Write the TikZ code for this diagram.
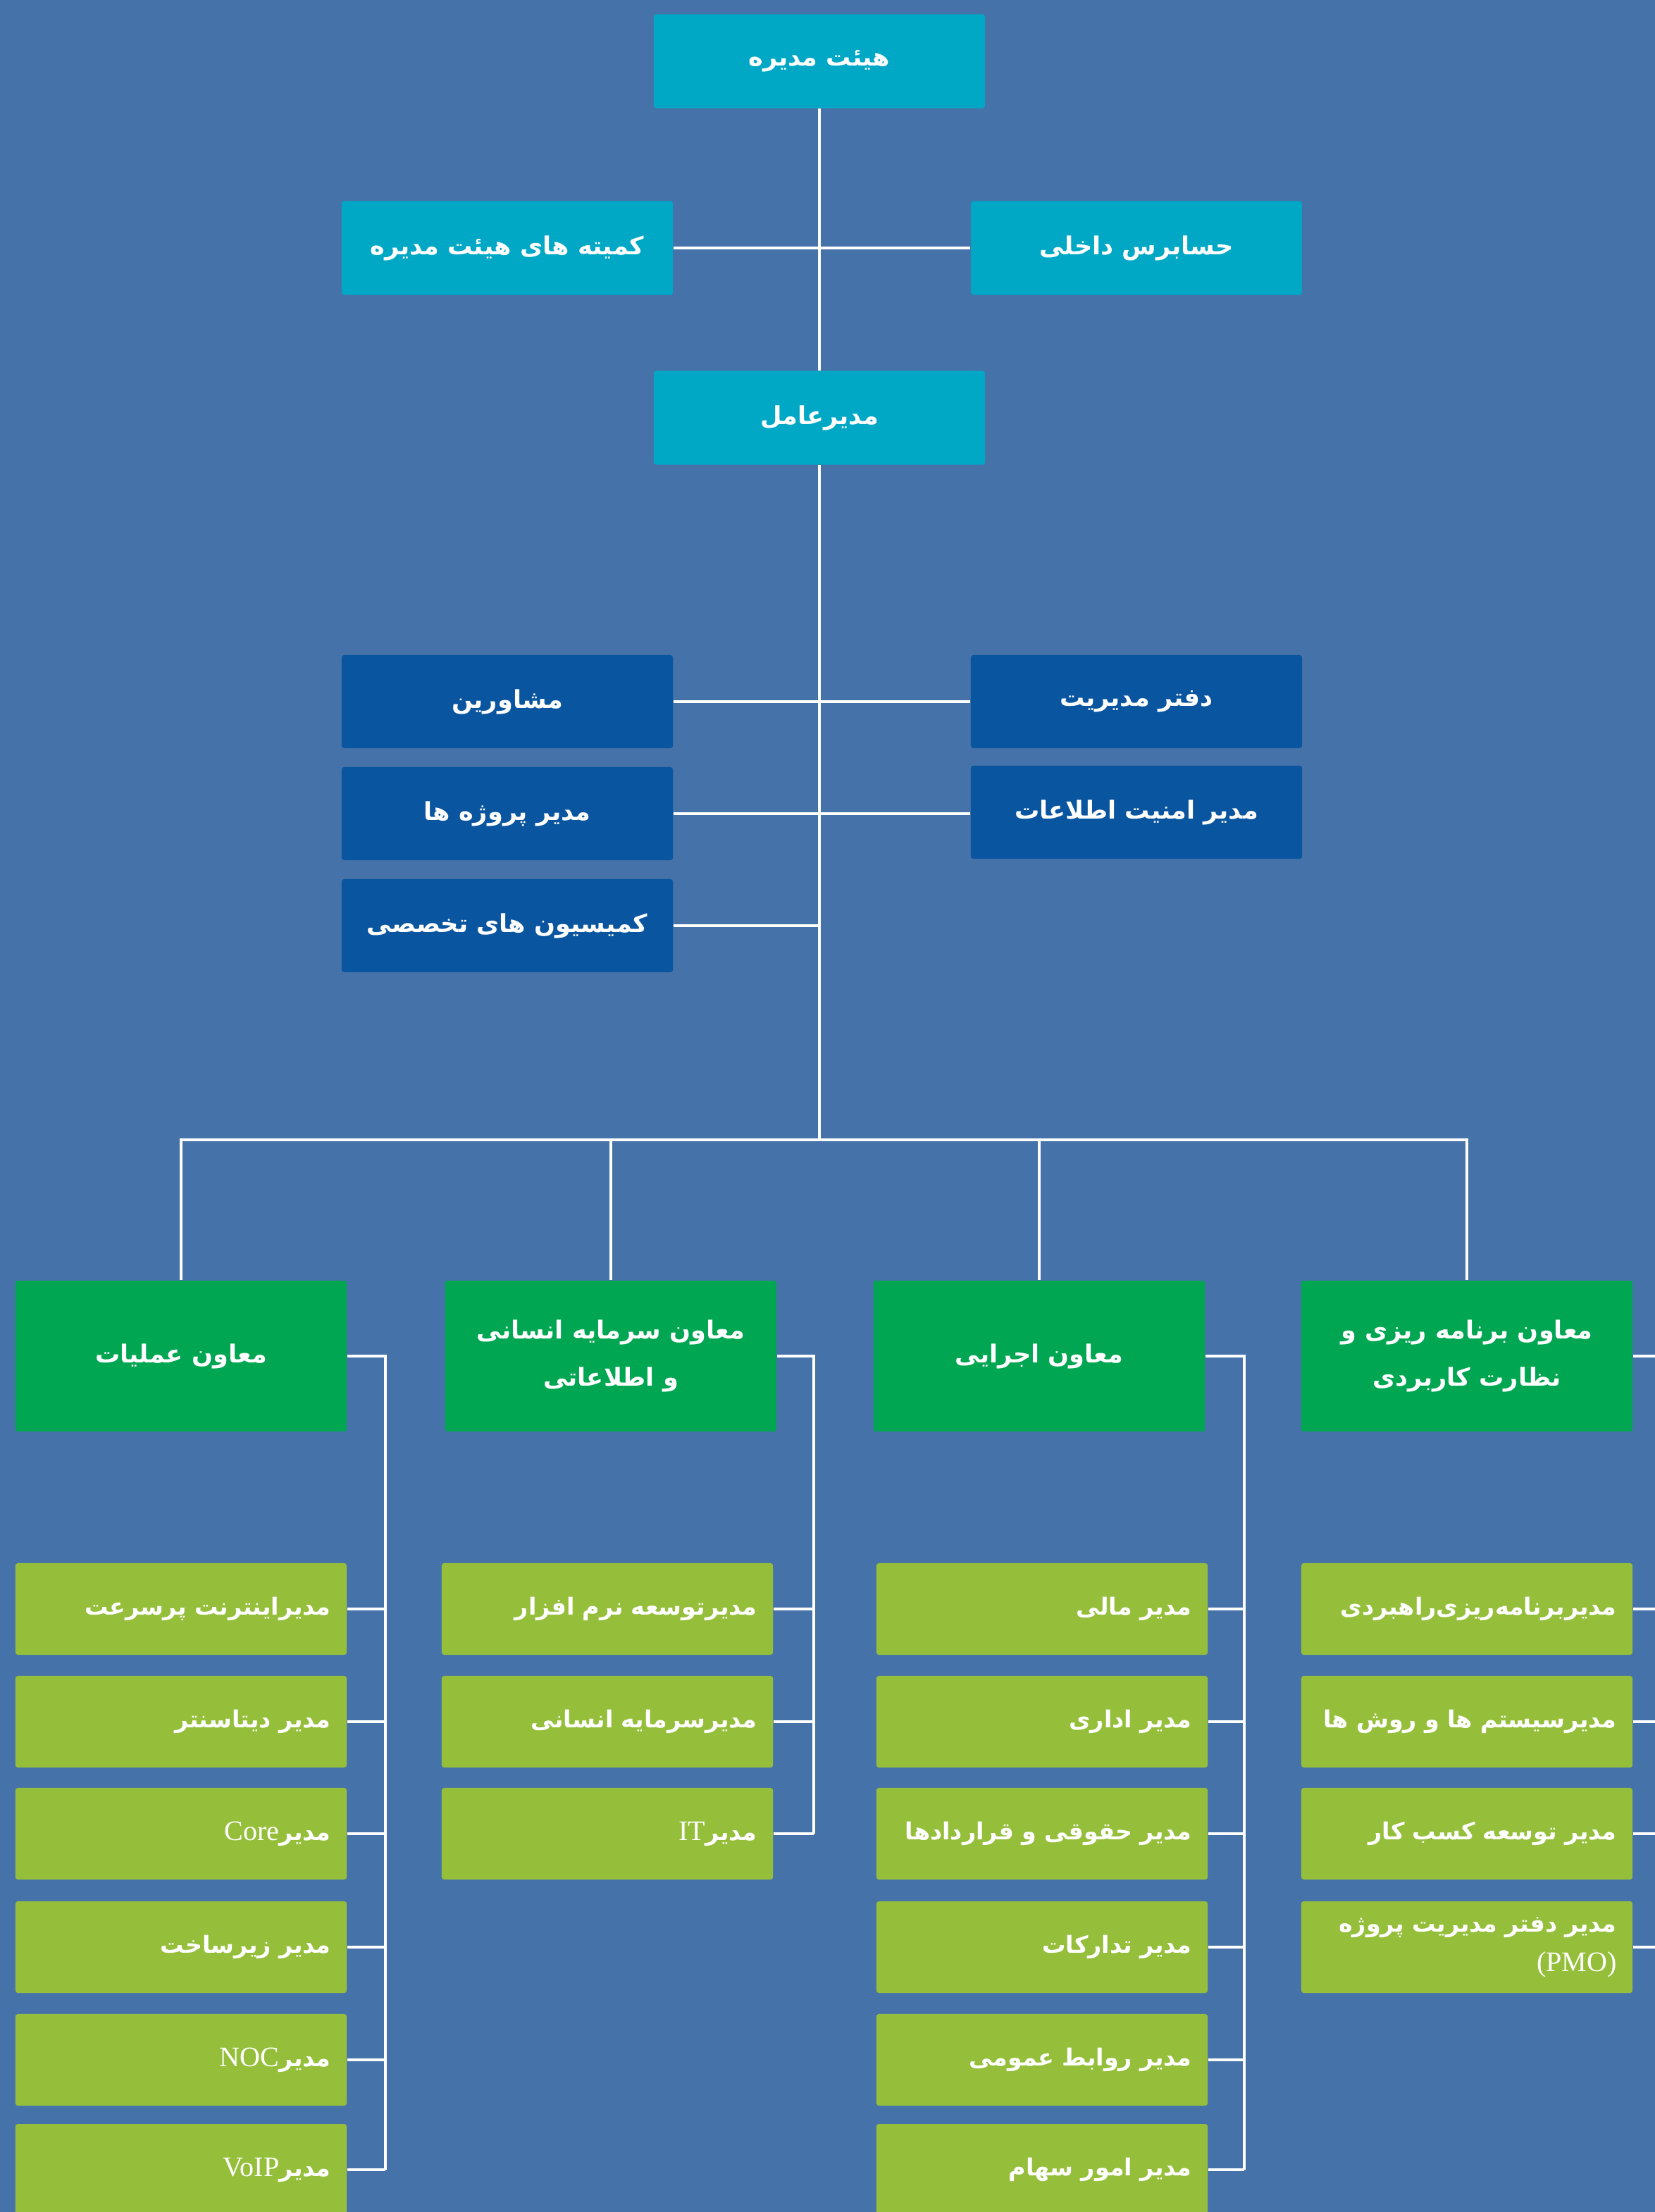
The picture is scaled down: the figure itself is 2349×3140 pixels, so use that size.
\documentclass[tikz,border=0pt]{standalone}
\usepackage{fontspec}
\newfontfamily\fafont[Script=Arabic]{DejaVu Sans}
\newfontfamily\lafont[Scale=1.2]{Liberation Serif}
\TeXXeTstate=1
\newcommand{\fa}[1]{{\fafont\bfseries\beginR #1\endR}}
\newcommand{\la}[1]{\beginL{\lafont\mdseries #1}\endL}
\definecolor{bgblue}{HTML}{4672AA}
\definecolor{cyanbox}{HTML}{00A8C6}
\definecolor{staffblue}{HTML}{0A559F}
\definecolor{vpgreen}{HTML}{00A651}
\definecolor{unitgreen}{HTML}{95BF3B}

\begin{document}
\begin{tikzpicture}[x=0.01cm,y=-0.01cm,
		box/.style={minimum width=4.7cm,inner sep=0pt,rounded corners=1pt,text=white,font=\fontsize{10}{19}\selectfont},
		topbox/.style={box,fill=cyanbox,minimum height=1.33cm},
		staffbox/.style={box,fill=staffblue,minimum height=1.32cm},
		vpbox/.style={box,fill=vpgreen,minimum height=2.14cm,align=center},
		unitbox/.style={box,fill=unitgreen,minimum height=1.3cm,text width=4.25cm,inner xsep=0.225cm,align=right,font=\fontsize{9.5}{16}\selectfont},
		wire/.style={draw=white,line width=1pt}]
		\useasboundingbox (0,0) rectangle (2349,3140);
		\fill [bgblue] (0,0) rectangle (2349,3140);
		\clip (0,0) rectangle (2349,3140);
		\node [topbox] (board) at (1163,87) {\fa{هیئت مدیره}};
		\node [topbox] (committees) at (720,352) {\fa{کمیته های هیئت مدیره}};
		\node [topbox] (auditor) at (1613,352) {\fa{حسابرس داخلی}};
		\node [topbox] (ceo) at (1163,593) {\fa{مدیرعامل}};
		\node [staffbox] (advisors) at (720,996) {\fa{مشاورین}};
		\node [staffbox] (mgmtoffice) at (1613,996) {\fa{دفتر مدیریت}};
		\node [staffbox] (projects) at (720,1155) {\fa{مدیر پروژه ها}};
		\node [staffbox] (security) at (1613,1153) {\fa{مدیر امنیت اطلاعات}};
		\node [staffbox] (commissions) at (720,1314) {\fa{کمیسیون های تخصصی}};
		\node [vpbox] (opsvp) at (257,1925) {\fa{معاون عملیات}};
		\node [vpbox] (hrvp) at (867,1925) {\fa{معاون سرمایه انسانی}\\\fa{و اطلاعاتی}};
		\node [vpbox] (execvp) at (1475,1925) {\fa{معاون اجرایی}};
		\node [vpbox] (planvp) at (2082,1925) {\fa{معاون برنامه ریزی و}\\\fa{نظارت کاربردی}};
		\node [unitbox] (ops1) at (257,2284) {\fa{مدیراینترنت پرسرعت}};
		\node [unitbox] (ops2) at (257,2444) {\fa{مدیر دیتاسنتر}};
		\node [unitbox] (ops3) at (257,2603) {\fa{مدیر\la{Core}}};
		\node [unitbox] (ops4) at (257,2764) {\fa{مدیر زیرساخت}};
		\node [unitbox] (ops5) at (257,2924) {\fa{مدیر\la{NOC}}};
		\node [unitbox] (ops6) at (257,3080) {\fa{مدیر\la{VoIP}}};
		\node [unitbox] (hr1) at (862,2284) {\fa{مدیرتوسعه نرم افزار}};
		\node [unitbox] (hr2) at (862,2444) {\fa{مدیرسرمایه انسانی}};
		\node [unitbox] (hr3) at (862,2603) {\fa{مدیر\la{IT}}};
		\node [unitbox] (ex1) at (1479,2284) {\fa{مدیر مالی}};
		\node [unitbox] (ex2) at (1479,2444) {\fa{مدیر اداری}};
		\node [unitbox] (ex3) at (1479,2603) {\fa{مدیر حقوقی و قراردادها}};
		\node [unitbox] (ex4) at (1479,2764) {\fa{مدیر تدارکات}};
		\node [unitbox] (ex5) at (1479,2924) {\fa{مدیر روابط عمومی}};
		\node [unitbox] (ex6) at (1479,3080) {\fa{مدیر امور سهام}};
		\node [unitbox] (pl1) at (2082,2284) {\fa{مدیربرنامه‌ریزی‌راهبردی}};
		\node [unitbox] (pl2) at (2082,2444) {\fa{مدیرسیستم ها و روش ها}};
		\node [unitbox] (pl3) at (2082,2603) {\fa{مدیر توسعه کسب کار}};
		\node [unitbox] (pl4) at (2082,2764) {\fa{مدیر دفتر مدیریت پروژه}\\{\lafont (PMO)}};
		\coordinate (bus) at (1163,1618);
		\coordinate (opsrail) at (547,0);
		\coordinate (hrrail) at (1155,0);
		\coordinate (exrail) at (1766,0);
		\coordinate (plrail) at (2380,0);
		\draw [wire] (board.south) -- (ceo.north);
		\draw [wire] (committees.east) -- (auditor.west);
		\draw [wire] (ceo.south) -- (bus);
		\draw [wire] (advisors.east) -- (mgmtoffice.west);
		\draw [wire] (projects.east) -- (projects.east -| security.west);
		\draw [wire] (commissions.east) -- (commissions.east -| ceo);
		\draw [wire] (opsvp.north) -- (opsvp.north |- bus) -- (planvp.north |- bus) -- (planvp.north);
		\draw [wire] (hrvp.north) -- (hrvp.north |- bus);
		\draw [wire] (execvp.north) -- (execvp.north |- bus);
		\draw [wire] (opsvp.east) -- (opsvp.east -| opsrail) -- (opsrail |- ops6.east);
		\draw [wire] (hrvp.east) -- (hrvp.east -| hrrail) -- (hrrail |- hr3.east);
		\draw [wire] (execvp.east) -- (execvp.east -| exrail) -- (exrail |- ex6.east);
		\draw [wire] (planvp.east) -- (planvp.east -| plrail) -- (plrail |- pl4.east);
		\foreach \i in {1,...,6} \draw [wire] (ops\i.east) -- (ops\i.east -| opsrail);
		\foreach \i in {1,...,3} \draw [wire] (hr\i.east) -- (hr\i.east -| hrrail);
		\foreach \i in {1,...,6} \draw [wire] (ex\i.east) -- (ex\i.east -| exrail);
		\foreach \i in {1,...,4} \draw [wire] (pl\i.east) -- (pl\i.east -| plrail);
	\end{tikzpicture}
\end{document}
